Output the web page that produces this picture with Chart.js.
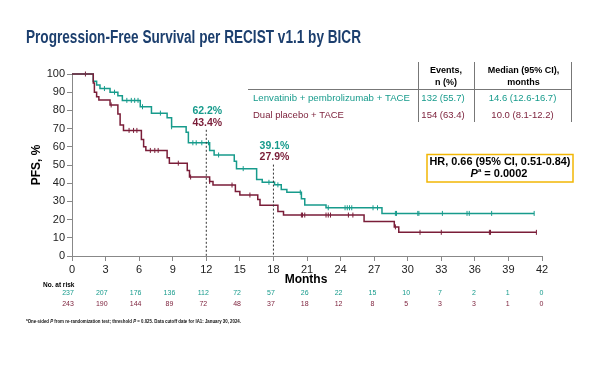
<!DOCTYPE html>
<html>
<head>
<meta charset="utf-8">
<script src="https://cdn.jsdelivr.net/npm/chart.js@4.4.1/dist/chart.umd.min.js"></script>
<style>
  html, body { margin: 0; padding: 0; background: #fff; }
  #wrap { width: 600px; height: 365px; position: relative; }
</style>
</head>
<body>
<div id="wrap"><canvas id="km" width="600" height="365"></canvas></div>
<script>
// KM step data (time in months, PFS %)
const lenTimes = [0, 1.9, 2.2, 2.5, 3.4, 4.1, 4.5, 6.1, 7.1, 8.5, 8.9, 10.2, 10.4, 12.3, 12.7, 14.5, 14.7, 16.5, 17.0, 18.1, 18.7, 19.2, 20.5, 20.8, 22.7, 27.7, 41.3];
const lenSurv  = [100, 96, 94, 92, 90, 88, 85.5, 82, 78.5, 76, 71, 68, 62.2, 58, 55.5, 52, 48, 42, 40.5, 39.1, 36.5, 35, 31.5, 28, 26.5, 23.4, 23.4];
const plcTimes = [0, 1.9, 2.0, 2.2, 2.4, 3.4, 4.1, 4.3, 4.6, 6.2, 6.4, 6.6, 8.5, 8.7, 10.3, 10.5, 12.3, 12.6, 14.6, 15.0, 16.6, 16.8, 18.4, 18.9, 26.1, 28.8, 29.2, 41.5];
const plcSurv  = [100, 95, 90, 87.5, 85.7, 83, 78, 72, 69, 64, 60, 58, 54, 51, 47, 43.4, 41, 39, 35.5, 33.5, 31, 27.9, 24.5, 22.5, 19, 16, 13, 13];

// censor marks (months)
const lenCensor = [2.9, 3.8, 4.9, 5.3, 5.6, 5.9, 6.3, 7.9, 8.9, 10.8, 11.1, 11.6, 12.2, 13.1, 15.3, 17.6, 18.4, 20.4, 22.9, 24.4, 24.6, 24.8, 25.0, 26.9, 27.3, 28.9, 29.0, 30.9, 31.0, 33.1, 35.3, 35.5, 37.5, 41.3];
const plcCensor = [1.2, 3.5, 5.1, 5.5, 5.8, 7.0, 7.4, 7.7, 9.5, 10.6, 12.3, 14.3, 15.9, 20.5, 20.6, 20.8, 22.7, 22.9, 23.1, 24.7, 25.1, 28.9, 31.1, 33.0, 37.3, 37.4, 41.5];

// number at risk
const riskMonths = [0, 3, 6, 9, 12, 15, 18, 21, 24, 27, 30, 33, 36, 39, 42];
const lenRisk = [237, 207, 176, 136, 112, 72, 57, 26, 22, 15, 10, 7, 2, 1, 0];
const plcRisk = [243, 190, 144, 89, 72, 48, 37, 18, 12, 8, 5, 3, 3, 1, 0];

// landmark labels
const landmarks = [12, 18];
const lenLandmark = ["62.2%", "39.1%"];
const plcLandmark = ["43.4%", "27.9%"];

// table
const armNames = ["Lenvatinib + pembrolizumab + TACE", "Dual placebo + TACE"];
const armEvents = ["132 (55.7)", "154 (63.4)"];
const armMedians = ["14.6 (12.6-16.7)", "10.0 (8.1-12.2)"];

const TEAL = "#179b8c";
const MAROON = "#7a1d38";
const FONT = "'Liberation Sans', Arial, sans-serif";

function survAt(times, surv, t) {
  let s = surv[0];
  for (let i = 0; i < times.length; i++) if (times[i] <= t) s = surv[i];
  return s;
}

const toPts = (ts, ss) => ts.map((t, i) => ({ x: t, y: ss[i] }));
const censorPts = (cs, ts, ss) => cs.map(t => ({ x: t, y: survAt(ts, ss, t) }));

// draw text runs (mixed fonts) optionally squeezed to a width
function drawRuns(ctx, runs, x, y, opts) {
  opts = opts || {};
  let total = 0;
  runs.forEach(r => { ctx.font = r.font; r.w = ctx.measureText(r.t).width; total += r.w; });
  const s = opts.width ? opts.width / total : 1;
  let x0 = x;
  if (opts.align === "center") x0 = x - total * s / 2;
  else if (opts.align === "right") x0 = x - total * s;
  ctx.save();
  ctx.translate(x0, y);
  ctx.scale(s, 1);
  ctx.textAlign = "left";
  ctx.textBaseline = "middle";
  ctx.fillStyle = opts.color || "#000";
  let cx = 0;
  runs.forEach(r => {
    ctx.font = r.font;
    ctx.fillText(r.t, cx, r.dy || 0);
    cx += r.w;
  });
  ctx.restore();
}

function text(ctx, t, x, y, font, color, align) {
  ctx.font = font;
  ctx.fillStyle = color;
  ctx.textAlign = align || "center";
  ctx.textBaseline = "middle";
  ctx.fillText(t, x, y);
}

const extras = {
  id: "extras",
  afterDraw(chart) {
    const ctx = chart.ctx;
    const xs = chart.scales.x;
    const bottom = chart.chartArea.bottom;

    // title
    drawRuns(ctx, [{ t: "Progression-Free Survival per RECIST v1.1 by BICR", font: "bold 18px " + FONT }],
      26, 38, { width: 335, color: "#1c3f6e" });

    // axis titles
    ctx.save();
    ctx.translate(37, 165);
    ctx.rotate(-Math.PI / 2);
    text(ctx, "PFS, %", 0, 0, "bold 12px " + FONT, "#000");
    ctx.restore();
    text(ctx, "Months", 306, 280, "bold 12px " + FONT, "#000");

    // landmark dashed lines and labels
    const labY = [[111.5, 122.8], [146, 157.6]];
    landmarks.forEach((m, i) => {
      const px = xs.getPixelForValue(m);
      ctx.save();
      ctx.strokeStyle = "#333";
      ctx.lineWidth = 1;
      ctx.setLineDash([2, 2]);
      ctx.beginPath();
      ctx.moveTo(px, labY[i][1] + 7);
      ctx.lineTo(px, bottom);
      ctx.stroke();
      ctx.restore();
      text(ctx, lenLandmark[i], px + 1, labY[i][0], "bold 10.5px " + FONT, TEAL);
      text(ctx, plcLandmark[i], px + 1, labY[i][1], "bold 10.5px " + FONT, MAROON);
    });

    // number at risk
    text(ctx, "No. at risk", 43, 285, "bold 6.5px " + FONT, "#000", "left");
    riskMonths.forEach((m, i) => {
      const px = xs.getPixelForValue(m) - 4 + i * 0.25;
      text(ctx, String(lenRisk[i]), px, 293, "7px " + FONT, TEAL);
      text(ctx, String(plcRisk[i]), px, 304, "7px " + FONT, MAROON);
    });

    // footnote
    const fb = "bold 5px " + FONT, fi = "italic bold 5px " + FONT;
    drawRuns(ctx, [
      { t: "a", font: "bold 3.5px " + FONT, dy: -1.5 },
      { t: "One-sided ", font: fb }, { t: "P", font: fi },
      { t: " from re-randomization test; threshold ", font: fb }, { t: "P", font: fi },
      { t: " = 0.025. Data cutoff date for IA1: January 30, 2024.", font: fb }
    ], 26, 322, { width: 215, color: "#111" });

    // table
    ctx.save();
    ctx.strokeStyle = "#777";
    ctx.lineWidth = 1;
    ctx.beginPath();
    ctx.moveTo(248, 89.5); ctx.lineTo(572, 89.5);
    [418.5, 474.5, 571.5].forEach(vx => { ctx.moveTo(vx, 62); ctx.lineTo(vx, 122); });
    ctx.stroke();
    ctx.restore();
    const hf = "bold 9px " + FONT;
    text(ctx, "Events,", 446, 71, hf, "#000");
    text(ctx, "n (%)", 446, 82.5, hf, "#000");
    text(ctx, "Median (95% CI),", 523.5, 71, hf, "#000");
    text(ctx, "months", 523.5, 82.5, hf, "#000");
    const rowY = [98.5, 115];
    const rowC = [TEAL, MAROON];
    armNames.forEach((n, i) => {
      drawRuns(ctx, [{ t: n, font: "9.5px " + FONT }], 253, rowY[i], { width: i === 0 ? 157 : undefined, color: rowC[i] });
      text(ctx, armEvents[i], 443, rowY[i], "9.5px " + FONT, rowC[i]);
      text(ctx, armMedians[i], 522.5, rowY[i], "9.5px " + FONT, rowC[i]);
    });

    // HR box
    ctx.save();
    ctx.strokeStyle = "#f2b705";
    ctx.lineWidth = 1.5;
    ctx.strokeRect(427, 154.5, 146, 27.5);
    ctx.restore();
    drawRuns(ctx, [{ t: "HR, 0.66 (95% CI, 0.51-0.84)", font: "bold 11px " + FONT }], 500, 162, { width: 141, align: "center" });
    drawRuns(ctx, [
      { t: "P", font: "italic bold 11px " + FONT },
      { t: "a", font: "bold 6px " + FONT, dy: -3 },
      { t: " = 0.0002", font: "bold 11px " + FONT }
    ], 499, 173.5, { align: "center" });
  }
};

const ds = (data, color) => ({
  data, borderColor: color, borderWidth: 1.5, stepped: "before",
  pointRadius: 0, fill: false, clip: false
});
const cens = (data, color) => ({
  data, type: "scatter", showLine: false, borderColor: color, backgroundColor: color,
  pointStyle: "line", pointRotation: 90, pointRadius: 2.5, borderWidth: 1, clip: false
});

new Chart(document.getElementById("km"), {
  type: "line",
  data: {
    datasets: [
      ds(toPts(plcTimes, plcSurv), MAROON),
      ds(toPts(lenTimes, lenSurv), TEAL),
      cens(censorPts(plcCensor, plcTimes, plcSurv), MAROON),
      cens(censorPts(lenCensor, lenTimes, lenSurv), TEAL)
    ]
  },
  options: {
    responsive: false,
    animation: false,
    layout: { padding: { top: 74, right: 58, bottom: 79, left: 0 } },
    plugins: { legend: { display: false }, tooltip: { enabled: false } },
    scales: {
      x: {
        type: "linear", min: 0, max: 42,
        afterFit: s => { s.height = 30; },
        afterBuildTicks: s => { s.ticks = riskMonths.map(v => ({ value: v })); },
        ticks: { color: "#222", font: { size: 11, family: FONT }, padding: 2, maxRotation: 0 },
        grid: { drawOnChartArea: false, tickLength: 5, color: "#888" },
        border: { color: "#888", width: 1 }
      },
      y: {
        min: 0, max: 100,
        afterFit: s => { s.width = 72; },
        ticks: { stepSize: 10, color: "#222", font: { size: 11, family: FONT }, padding: 2 },
        grid: { drawOnChartArea: false, tickLength: 5, color: "#888" },
        border: { color: "#888", width: 1 }
      }
    }
  },
  plugins: [extras]
});
</script>
</body>
</html>
